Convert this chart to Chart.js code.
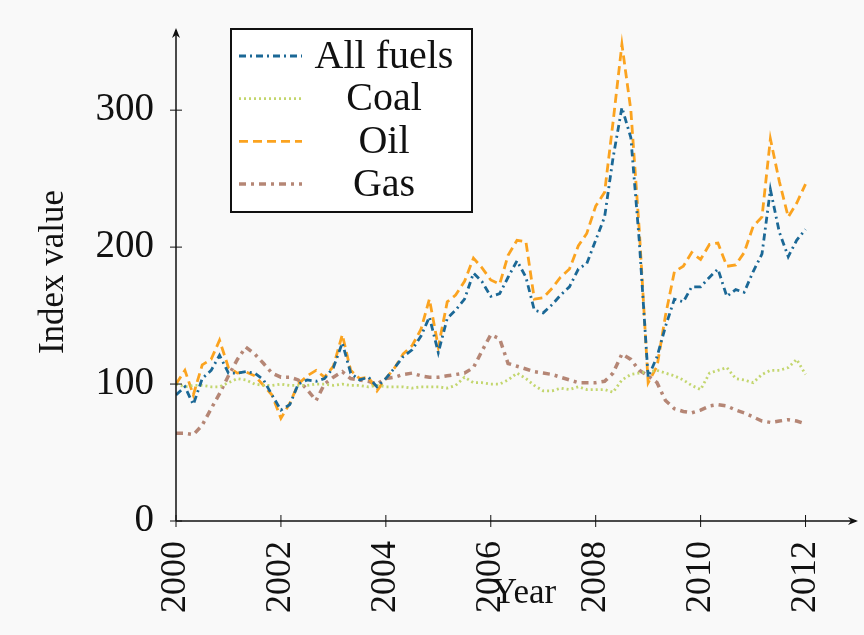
<!DOCTYPE html>
<html>
<head>
<meta charset="utf-8">
<script src="https://cdn.jsdelivr.net/npm/chart.js@4.4.1/dist/chart.umd.min.js"></script>
<style>
  html, body { margin:0; padding:0; background:#f9f9f9; }
  #wrap { position:relative; width:864px; height:635px; }
</style>
</head>
<body>
<div id="wrap"><canvas id="fuelChart" width="864" height="635"></canvas></div>
<script>
// ===== Data (index values) =====
const years = [
  2000.00, 2000.17, 2000.33, 2000.50, 2000.67, 2000.83,
  2001.00, 2001.17, 2001.33, 2001.50, 2001.67, 2001.83,
  2002.00, 2002.17, 2002.33, 2002.50, 2002.67, 2002.83,
  2003.00, 2003.17, 2003.33, 2003.50, 2003.67, 2003.83,
  2004.00, 2004.17, 2004.33, 2004.50, 2004.67, 2004.83,
  2005.00, 2005.17, 2005.33, 2005.50, 2005.67, 2005.83,
  2006.00, 2006.17, 2006.33, 2006.50, 2006.67, 2006.83,
  2007.00, 2007.17, 2007.33, 2007.50, 2007.67, 2007.83,
  2008.00, 2008.17, 2008.33, 2008.50, 2008.67, 2008.83,
  2009.00, 2009.17, 2009.33, 2009.50, 2009.67, 2009.83,
  2010.00, 2010.17, 2010.33, 2010.50, 2010.67, 2010.83,
  2011.00, 2011.17, 2011.33, 2011.50, 2011.67, 2011.83,
  2012.00
];

const allFuels = [
   92,  98,  85, 104, 110, 121,
  108, 108, 109, 108, 103,  92,
   81,  85, 100, 103, 102, 104,
  112, 130, 108, 103, 105,  98,
  104, 112, 120, 125, 135, 149,
  123, 148, 154, 162, 181, 175,
  164, 166, 178, 190, 178, 154,
  152, 158, 165, 171, 184, 188,
  205, 222, 265, 302, 280, 205,
  105, 120, 142, 162, 160, 171,
  171, 178, 184, 164, 169, 167,
  182, 195, 242, 211, 193, 205,
  213
];

const coal = [
  100,  98,  99,  99,  98,  98,
  101, 104, 103, 100,  99,  99,
  100,  99,  99,  99, 100, 100,
   99, 100,  99,  99,  98,  99,
   98,  98,  98,  97,  98,  98,
   98,  97,  99, 105, 101, 101,
  100, 100, 103, 108, 104,  99,
   95,  95,  97,  96,  98,  96,
   96,  96,  94, 103, 107, 108,
  109, 110, 108, 106, 103,  99,
   96, 108, 110, 112, 104, 103,
  101, 107, 110, 110, 112, 118,
  107
];

const oil = [
  100, 110,  92, 114, 118, 132,
  112, 108, 109, 106,  99,  92,
   75,  86, 100, 106, 110, 105,
  113, 136, 110, 104, 105,  95,
  104, 112, 122, 128, 140, 162,
  127, 160, 165, 175, 192, 185,
  176, 173, 194, 205, 204, 162,
  163, 170, 178, 184, 201, 210,
  230, 240, 291, 348, 300, 213,
  101, 113, 150, 182, 186, 196,
  191, 202, 203, 186, 187, 196,
  215, 222, 279, 248, 222, 232,
  246
];

const gas = [
   64,  64,  63,  70,  82,  93,
  106, 118, 127, 122, 115, 108,
  105, 105, 103,  96,  88, 100,
  105, 109, 104, 103, 102, 100,
  104, 105, 107, 108, 106, 105,
  105, 106, 107, 108, 112, 124,
  136, 133, 115, 113, 111, 109,
  108, 107, 105, 103, 101, 101,
  101, 102, 108, 122, 118, 110,
  106, 101,  88,  82,  80,  79,
   81,  84,  85,  84,  81,  79,
   76,  73,  72,  73,  74,  73,
   71
];

const seriesLabels = ['All fuels', 'Coal', 'Oil', 'Gas'];
const xTicks = [2000, 2002, 2004, 2006, 2008, 2010, 2012];
const yTicks = [0, 100, 200, 300];

const SERIF = "'Liberation Serif', 'DejaVu Serif', serif";

function toPoints(vals){
  return vals.map((v, i) => ({ x: years[i], y: v }));
}

// ===== Axes with arrows and crossing tick marks =====
const axisPlugin = {
  id: 'axisArrows',
  afterDatasetsDraw(chart){
    const { ctx, chartArea: a, scales } = chart;
    ctx.save();
    ctx.strokeStyle = '#111';
    ctx.fillStyle = '#111';
    ctx.lineWidth = 1.5;
    ctx.setLineDash([]);
    // axis lines
    ctx.beginPath();
    ctx.moveTo(a.left, a.bottom); ctx.lineTo(a.right - 2, a.bottom);
    ctx.moveTo(a.left, a.bottom); ctx.lineTo(a.left, a.top + 2);
    ctx.stroke();
    // arrow heads
    ctx.beginPath();
    ctx.moveTo(a.right, a.bottom);
    ctx.lineTo(a.right - 10, a.bottom - 4);
    ctx.lineTo(a.right - 7, a.bottom);
    ctx.lineTo(a.right - 10, a.bottom + 4);
    ctx.closePath(); ctx.fill();
    ctx.beginPath();
    ctx.moveTo(a.left, a.top);
    ctx.lineTo(a.left - 4, a.top + 10);
    ctx.lineTo(a.left, a.top + 7);
    ctx.lineTo(a.left + 4, a.top + 10);
    ctx.closePath(); ctx.fill();
    // tick marks
    ctx.lineWidth = 1;
    ctx.beginPath();
    scales.x.ticks.forEach(t => {
      const px = scales.x.getPixelForValue(t.value);
      ctx.moveTo(px, a.bottom - 6); ctx.lineTo(px, a.bottom + 6);
    });
    scales.y.ticks.forEach(t => {
      const py = scales.y.getPixelForValue(t.value);
      ctx.moveTo(a.left - 6, py); ctx.lineTo(a.left + 6, py);
    });
    ctx.stroke();
    // axis titles
    ctx.font = '35px ' + SERIF;
    ctx.textAlign = 'center';
    ctx.textBaseline = 'middle';
    ctx.fillText('Year', 524, 594);
    ctx.translate(54, 272);
    ctx.rotate(-Math.PI / 2);
    ctx.fillText('Index value', 0, 0);
    ctx.restore();
  }
};

// ===== Boxed legend, labels centred =====
const legendPlugin = {
  id: 'boxLegend',
  afterDraw(chart){
    const { ctx } = chart;
    const bx = 231, by = 29, bw = 241, bh = 183;
    ctx.save();
    ctx.fillStyle = '#ffffff';
    ctx.fillRect(bx, by, bw, bh);
    ctx.strokeStyle = '#111';
    ctx.lineWidth = 2;
    ctx.setLineDash([]);
    ctx.strokeRect(bx, by, bw, bh);
    chart.data.datasets.forEach((ds, i) => {
      const y = by + 27 + i * 42.7;
      ctx.beginPath();
      ctx.strokeStyle = ds.borderColor;
      ctx.lineWidth = ds.borderWidth;
      ctx.setLineDash(ds.borderDash);
      ctx.moveTo(239, y); ctx.lineTo(302, y);
      ctx.stroke();
      ctx.setLineDash([]);
      ctx.fillStyle = '#111';
      ctx.font = '40px ' + SERIF;
      ctx.textAlign = 'center';
      ctx.textBaseline = 'middle';
      ctx.fillText(ds.label, 384, y + 1);
    });
    ctx.restore();
  }
};

const ctx = document.getElementById('fuelChart').getContext('2d');
new Chart(ctx, {
  type: 'line',
  data: {
    datasets: [
      { label: seriesLabels[0], data: toPoints(allFuels), borderColor: '#1b6896', borderWidth: 2.8, borderDash: [7, 4, 2, 4] },
      { label: seriesLabels[1], data: toPoints(coal),     borderColor: '#c3d66e', borderWidth: 2.8, borderDash: [2, 3] },
      { label: seriesLabels[2], data: toPoints(oil),      borderColor: '#fba31f', borderWidth: 2.8, borderDash: [9, 5] },
      { label: seriesLabels[3], data: toPoints(gas),      borderColor: '#b58675', borderWidth: 3.5, borderDash: [7, 5, 3, 5] }
    ]
  },
  options: {
    responsive: false,
    animation: false,
    layout: { padding: { top: 28, right: 6, left: 0, bottom: 0 } },
    elements: { point: { radius: 0 }, line: { tension: 0 } },
    plugins: { legend: { display: false }, tooltip: { enabled: false } },
    scales: {
      x: {
        type: 'linear', min: 2000, max: 2013,
        grid: { display: false }, border: { display: false },
        afterBuildTicks: s => { s.ticks = xTicks.map(v => ({ value: v })); },
        afterFit: s => { s.height = 114; s.paddingLeft = 0; s.paddingRight = 0; },
        ticks: {
          color: '#111', font: { family: SERIF, size: 36 },
          minRotation: 90, maxRotation: 90, padding: 12,
          callback: v => String(v)
        }
      },
      y: {
        min: 0, max: 360,
        grid: { display: false }, border: { display: false },
        afterBuildTicks: s => { s.ticks = yTicks.map(v => ({ value: v })); },
        afterFit: s => { s.width = 176; s.paddingTop = 0; s.paddingBottom = 0; },
        ticks: {
          color: '#111', font: { family: SERIF, size: 39 },
          padding: 14
        }
      }
    }
  },
  plugins: [axisPlugin, legendPlugin]
});
</script>
</body>
</html>
